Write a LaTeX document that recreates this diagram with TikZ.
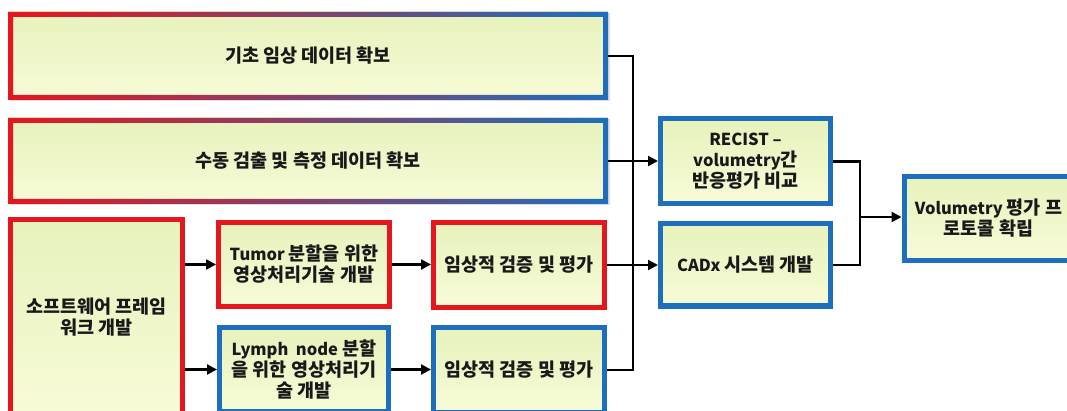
\documentclass[tikz,border=0pt]{standalone}
\usepackage{fontspec}
\setmainfont{Noto Sans CJK KR}
\newcommand\lt[1]{{\fontsize{16.5}{21}\selectfont #1}}
\usetikzlibrary{arrows.meta,shadows,calc}
\definecolor{myred}{RGB}{230,22,30}
\definecolor{myblue}{RGB}{30,110,190}
\definecolor{mymid}{RGB}{165,75,140}
\definecolor{filltop}{RGB}{231,242,188}
\definecolor{fillbot}{RGB}{247,251,215}
\newcommand\gradframe[1]{%
  \shade[left color=myred, middle color=mymid, right color=myblue, even odd rule]
    (#1.south west) rectangle (#1.north east)
    ([shift={(5pt,5pt)}]#1.south west) rectangle ([shift={(-5pt,-5pt)}]#1.north east);}
\tikzset{
  basebox/.style={rectangle, top color=filltop, bottom color=fillbot, align=center,
    font=\fontsize{18.5}{21}\selectfont\bfseries, text=black!90,
    drop shadow={opacity=0.25, shadow xshift=1.5pt, shadow yshift=-1.5pt}},
  redbox/.style={basebox, draw=myred, line width=5pt},
  bluebox/.style={basebox, draw=myblue, line width=5pt},
  gradbox/.style={basebox, draw=none, outer sep=0pt},
  conn/.style={line width=2.2pt, black},
  arr/.style={conn, -{Triangle[length=10pt,width=10pt]}}
}
\begin{document}
\begin{tikzpicture}[x=1pt,y=-1pt]
\useasboundingbox (0,0) rectangle (1067,411);
% long bars
\node[gradbox, minimum width=600pt, minimum height=88pt] (bar1) at (308,56) {기초 임상 데이터 확보};
\gradframe{bar1}
\node[gradbox, minimum width=600pt, minimum height=86pt] (bar2) at (308,161) {수동 검출 및 측정 데이터 확보};
\gradframe{bar2}
% software framework
\node[redbox, minimum width=172pt, minimum height=195pt] (sw) at (96.5,317) {소프트웨어 프레임\\워크 개발};
% segmentation boxes
\node[redbox, minimum width=171pt, minimum height=84pt] (tumor) at (304,264.5) {\lt{Tumor} 분할을 위한\\영상처리기술 개발};
\node[bluebox, minimum width=169pt, minimum height=84pt] (lymph) at (304,369.5) {\lt{Lymph\ \ node} 분할\\을 위한 영상처리기\\술 개발};
% evaluation boxes
\node[redbox, minimum width=171pt, minimum height=85pt] (ev1) at (519,265) {임상적 검증 및 평가};
\node[bluebox, minimum width=171pt, minimum height=85pt] (ev2) at (519,370) {임상적 검증 및 평가};
% right column
\node[bluebox, minimum width=170pt, minimum height=85pt] (recist) at (745.5,161.5) {\lt{RECIST –}\\\lt{volumetry}간\\반응평가 비교};
\node[bluebox, minimum width=170pt, minimum height=82pt] (cadx) at (745.5,265) {\lt{CADx} 시스템 개발};
\node[bluebox, minimum width=169pt, minimum height=84pt] (vol) at (988.5,218.5) {\lt{Volumetry} 평가 프\\로토콜 확립};
% junctions
\coordinate (vx) at (633,0);
\coordinate (j2) at (860,217);
% connectors
\draw[conn] (bar1.east) -| (vx |- ev2.east) -- (ev2.east);
\draw[arr] (bar2.east) -- (bar2.east -| recist.west);
\draw[arr] (ev1.east) -- (ev1.east -| cadx.west);
\draw[arr] (sw.east |- tumor.west) -- (tumor.west);
\draw[arr] (sw.east |- lymph.west) -- (lymph.west);
\draw[arr] (tumor.east) -- (tumor.east -| ev1.west);
\draw[arr] (lymph.east) -- (lymph.east -| ev2.west);
\draw[conn] (recist.east) -| (j2) |- (cadx.east);
\draw[arr] (j2) -- (j2 -| vol.west);
\end{tikzpicture}
\end{document}
